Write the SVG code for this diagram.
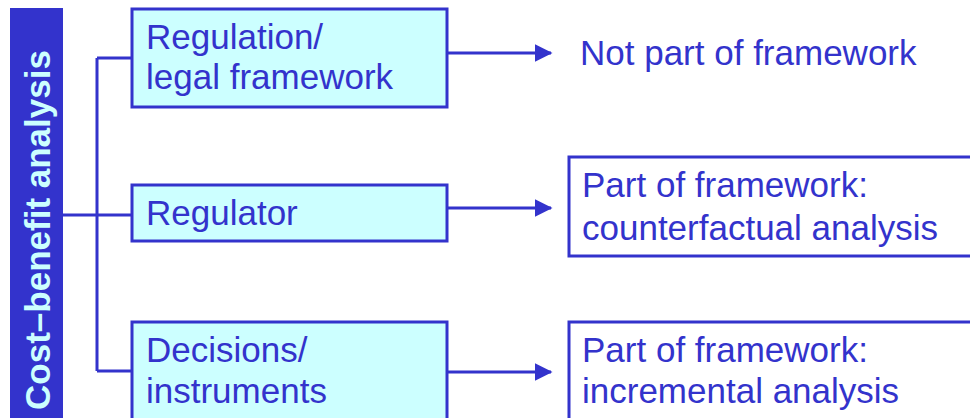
<svg xmlns="http://www.w3.org/2000/svg" width="970" height="418" viewBox="0 0 970 418">
<defs>
<style>
.box{fill:#ccffff;stroke:#3333cc;stroke-width:3}
.obox{fill:#ffffff;stroke:#3333cc;stroke-width:3}
.t{font-family:"Liberation Sans",Arial,sans-serif;font-size:35px;fill:#3333cc}
.ln{fill:none;stroke:#3333cc;stroke-width:3}
</style>
<marker id="ah" markerWidth="6" markerHeight="6" refX="5.5" refY="3" orient="auto" markerUnits="strokeWidth">
<path d="M0,0 L6,3 L0,6 Z" fill="#3333cc"/>
</marker>
</defs>
<rect width="970" height="418" fill="#ffffff"/>
<g id="cba">
<rect x="10" y="8" width="53" height="410" fill="#3333cc"/>
<text transform="translate(50,230) rotate(-90)" text-anchor="middle" font-family="Liberation Sans,Arial,sans-serif" font-size="35" font-weight="bold" fill="#ccffff">Cost–benefit analysis</text>
</g>
<g id="connectors">
<path class="ln" d="M63,215 H132 M97,58 V371 M97,58 H132 M97,371 H132"/>
<path class="ln" d="M448,53 H551" marker-end="url(#ah)"/>
<path class="ln" d="M448,208 H551" marker-end="url(#ah)"/>
<path class="ln" d="M448,372 H551" marker-end="url(#ah)"/>
</g>
<g id="regulation">
<rect class="box" x="132" y="9" width="315" height="98"/>
<text class="t" x="146" y="49">Regulation/</text>
<text class="t" x="146" y="89">legal framework</text>
</g>
<g id="regulator">
<rect class="box" x="132" y="185" width="315" height="56"/>
<text class="t" x="146" y="225">Regulator</text>
</g>
<g id="decisions">
<rect class="box" x="132" y="322" width="315" height="110"/>
<text class="t" x="146" y="362">Decisions/</text>
<text class="t" x="146" y="403">instruments</text>
</g>
<g id="notpart">
<text class="t" x="580" y="65">Not part of framework</text>
</g>
<g id="counterfactual">
<rect class="obox" x="569" y="157" width="420" height="99"/>
<text class="t" x="582" y="197">Part of framework:</text>
<text class="t" x="582" y="240">counterfactual analysis</text>
</g>
<g id="incremental">
<rect class="obox" x="569" y="322" width="420" height="110"/>
<text class="t" x="582" y="362">Part of framework:</text>
<text class="t" x="582" y="403">incremental analysis</text>
</g>
</svg>
